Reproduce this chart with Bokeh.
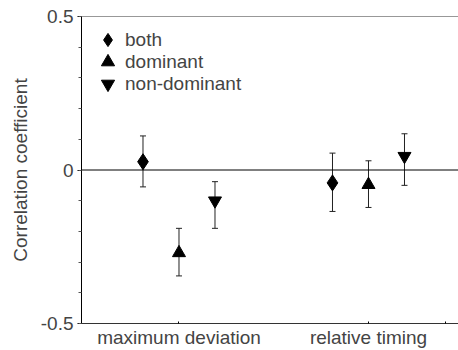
from bokeh.plotting import figure
from bokeh.models import (Range1d, FixedTicker, SingleIntervalTicker,
                          Span, Whisker, ColumnDataSource, Legend, LegendItem, TeeHead)
from bokeh.embed import file_html
from bokeh.resources import INLINE

# ---- data ----
groups = ["maximum deviation", "relative timing"]
group_pos = [1, 2]
series = ["both", "dominant", "non-dominant"]

both_val = [0.027, -0.042]
both_lo = [-0.055, -0.135]
both_hi = [0.111, 0.055]

dom_val = [-0.27, -0.048]
dom_lo = [-0.345, -0.122]
dom_hi = [-0.19, 0.030]

nondom_val = [-0.10, 0.045]
nondom_lo = [-0.19, -0.050]
nondom_hi = [-0.038, 0.118]

y_ticks_labels = {0.5: "0.5", 0: "0", -0.5: "-0.5"}

FONT = "Liberation Sans"
FS = "19px"

p = figure(width=458, height=350, output_backend="svg", toolbar_location=None,
           x_range=Range1d(0.4855, 2.475), y_range=Range1d(-0.5, 0.5),
           min_border_left=81, min_border_right=0, min_border_top=16, min_border_bottom=26)
p.outline_line_color = None
p.grid.grid_line_color = None
p.background_fill_color = "white"
p.border_fill_color = "white"

# zero line and top frame line
p.add_layout(Span(location=0, dimension="width", line_color="black", line_width=1))
p.add_layout(Span(location=0.5, dimension="width", line_color="#333333", line_width=1))

offsets = [-0.19, 0.0, 0.19]
markers = ["diamond", "triangle", "inverted_triangle"]
sizes = [16, 13, 13]
vals = [both_val, dom_val, nondom_val]
los = [both_lo, dom_lo, nondom_lo]
his = [both_hi, dom_hi, nondom_hi]
legend_rows_y = [267, 245, 223]

for name, off, mk, sz, v, lo, hi, ly in zip(series, offsets, markers, sizes, vals, los, his, legend_rows_y):
    src = ColumnDataSource(dict(x=[g + off for g in group_pos], y=v, lo=lo, hi=hi))
    w = Whisker(source=src, base="x", lower="lo", upper="hi", dimension="height",
                line_color="#222222", line_width=1,
                upper_head=TeeHead(size=6, line_color="#222222", line_width=1),
                lower_head=TeeHead(size=6, line_color="#222222", line_width=1))
    p.add_layout(w)
    r = p.scatter("x", "y", source=src, marker=mk, size=sz,
                  fill_color="black", line_color="black")
    lg = Legend(items=[LegendItem(label=name, renderers=[r])], location=(10, ly),
                padding=0, margin=0, glyph_width=33, glyph_height=33, label_height=33,
                spacing=0, label_standoff=1, border_line_color=None,
                background_fill_alpha=0, label_text_font=FONT, label_text_font_size=FS)
    p.add_layout(lg, "center")

# y axis
ya = p.yaxis[0]
ya.ticker = SingleIntervalTicker(interval=0.5, num_minor_ticks=5)
ya.major_label_overrides = y_ticks_labels
ya.axis_label = "Correlation coefficient"
ya.axis_label_text_font = FONT
ya.axis_label_text_font_size = FS
ya.axis_label_text_font_style = "normal"
ya.axis_label_standoff = 7
ya.major_label_text_font = FONT
ya.major_label_text_font_size = FS
ya.major_label_standoff = 4
ya.major_tick_out = 4
ya.major_tick_in = 0
ya.minor_tick_out = 3
ya.minor_tick_in = 0
ya.axis_line_color = "black"
ya.major_tick_line_color = "black"
ya.minor_tick_line_color = "#555555"

# x axis
xa = p.xaxis[0]
xa.ticker = FixedTicker(ticks=group_pos + [2.405])
xa.major_label_overrides = {1: groups[0], 2: groups[1], 2.405: ""}
xa.major_label_text_font = FONT
xa.major_label_text_font_size = FS
xa.major_label_standoff = 3
xa.major_tick_in = 2
xa.major_tick_out = 0
xa.minor_tick_line_color = None
xa.axis_line_color = "#333333"

open("out.html", "w").write(file_html(p, INLINE))
